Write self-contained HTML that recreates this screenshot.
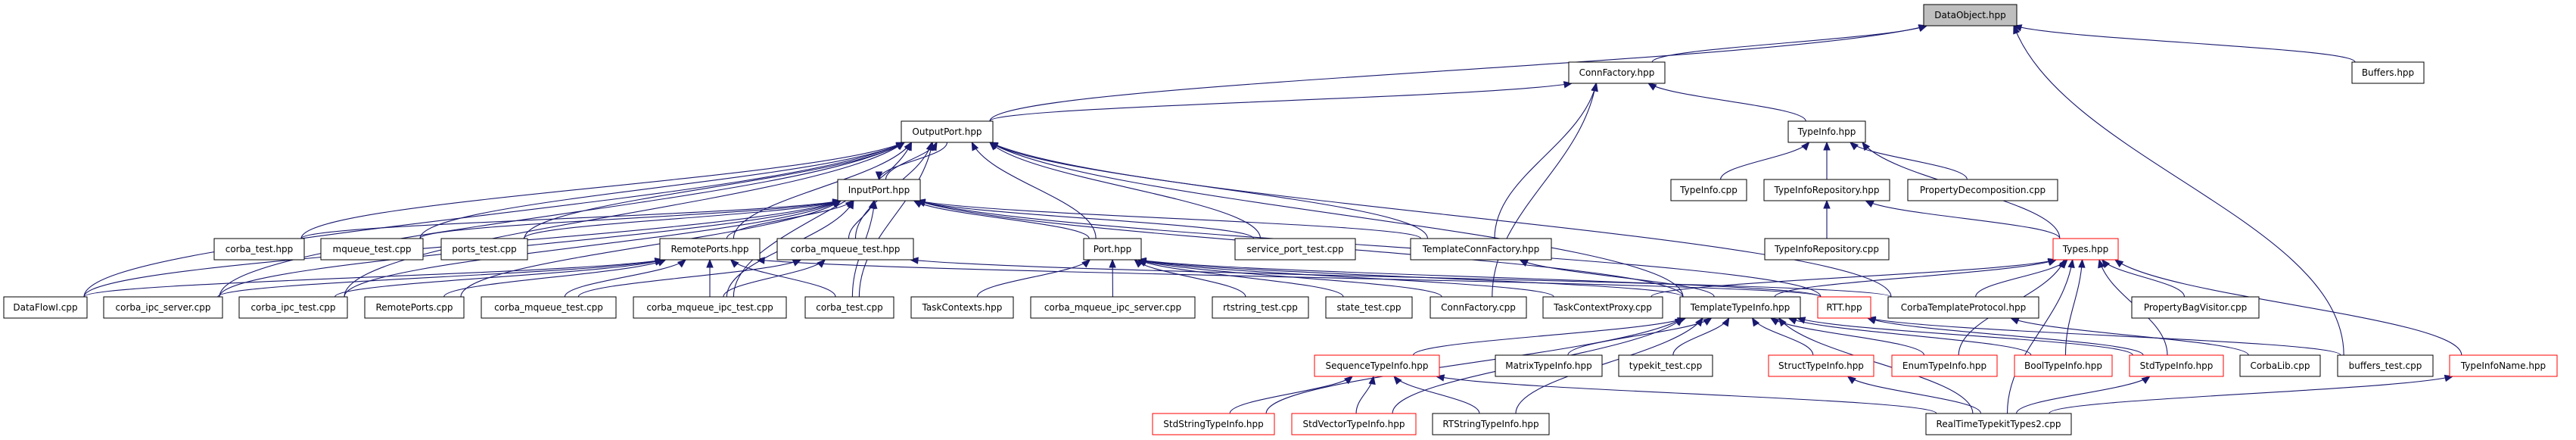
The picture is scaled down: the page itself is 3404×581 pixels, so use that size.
<!DOCTYPE html>
<html><head><meta charset="utf-8"><style>
html,body{margin:0;padding:0;background:#fff;}
svg{display:block;}
text{font-family:"DejaVu Sans","Liberation Sans",sans-serif;font-size:12px;fill:#000;}
</style></head><body>
<svg id="g" width="3404" height="581" viewBox="0 0 3404 581" xmlns="http://www.w3.org/2000/svg">
<g id="edges" fill="none" stroke="#191970" stroke-width="1.1"></g>
<g id="arrows" fill="#191970" stroke="#191970"></g>
<g id="nodes">
<rect x="2542" y="6" width="123" height="28" fill="#bfbfbf" stroke="#000"/><text x="2603.5" y="24" text-anchor="middle">DataObject.hpp</text>
<rect x="2073" y="82" width="127" height="28" fill="#fff" stroke="#000"/><text x="2136.5" y="100" text-anchor="middle">ConnFactory.hpp</text>
<rect x="3108" y="82" width="95" height="28" fill="#fff" stroke="#000"/><text x="3155.5" y="100" text-anchor="middle">Buffers.hpp</text>
<rect x="1191" y="160" width="121" height="28" fill="#fff" stroke="#000"/><text x="1251.5" y="178" text-anchor="middle">OutputPort.hpp</text>
<rect x="2363" y="160" width="102" height="28" fill="#fff" stroke="#000"/><text x="2414" y="178" text-anchor="middle">TypeInfo.hpp</text>
<rect x="1107" y="237" width="109" height="28" fill="#fff" stroke="#000"/><text x="1161.5" y="255" text-anchor="middle">InputPort.hpp</text>
<rect x="2208" y="237" width="100" height="28" fill="#fff" stroke="#000"/><text x="2258" y="255" text-anchor="middle">TypeInfo.cpp</text>
<rect x="2331" y="237" width="166" height="28" fill="#fff" stroke="#000"/><text x="2414" y="255" text-anchor="middle">TypeInfoRepository.hpp</text>
<rect x="2521" y="237" width="198" height="28" fill="#fff" stroke="#000"/><text x="2620" y="255" text-anchor="middle">PropertyDecomposition.cpp</text>
<rect x="283" y="315" width="119" height="28" fill="#fff" stroke="#000"/><text x="342.5" y="333" text-anchor="middle">corba_test.hpp</text>
<rect x="424" y="315" width="135" height="28" fill="#fff" stroke="#000"/><text x="491.5" y="333" text-anchor="middle">mqueue_test.cpp</text>
<rect x="583" y="315" width="114" height="28" fill="#fff" stroke="#000"/><text x="640" y="333" text-anchor="middle">ports_test.cpp</text>
<rect x="872" y="315" width="132" height="28" fill="#fff" stroke="#000"/><text x="938" y="333" text-anchor="middle">RemotePorts.hpp</text>
<rect x="1027" y="315" width="180" height="28" fill="#fff" stroke="#000"/><text x="1117" y="333" text-anchor="middle">corba_mqueue_test.hpp</text>
<rect x="1432" y="315" width="76" height="28" fill="#fff" stroke="#000"/><text x="1470" y="333" text-anchor="middle">Port.hpp</text>
<rect x="1632" y="315" width="159" height="28" fill="#fff" stroke="#000"/><text x="1711.5" y="333" text-anchor="middle">service_port_test.cpp</text>
<rect x="1864" y="315" width="186" height="28" fill="#fff" stroke="#000"/><text x="1957" y="333" text-anchor="middle">TemplateConnFactory.hpp</text>
<rect x="2332" y="315" width="164" height="28" fill="#fff" stroke="#000"/><text x="2414" y="333" text-anchor="middle">TypeInfoRepository.cpp</text>
<rect x="2713" y="315" width="86" height="28" fill="#fff" stroke="#f00"/><text x="2756" y="333" text-anchor="middle">Types.hpp</text>
<rect x="5" y="392" width="110" height="28" fill="#fff" stroke="#000"/><text x="60" y="410" text-anchor="middle">DataFlowI.cpp</text>
<rect x="137" y="392" width="157" height="28" fill="#fff" stroke="#000"/><text x="215.5" y="410" text-anchor="middle">corba_ipc_server.cpp</text>
<rect x="316" y="392" width="143" height="28" fill="#fff" stroke="#000"/><text x="387.5" y="410" text-anchor="middle">corba_ipc_test.cpp</text>
<rect x="482" y="392" width="131" height="28" fill="#fff" stroke="#000"/><text x="547.5" y="410" text-anchor="middle">RemotePorts.cpp</text>
<rect x="636" y="392" width="178" height="28" fill="#fff" stroke="#000"/><text x="725" y="410" text-anchor="middle">corba_mqueue_test.cpp</text>
<rect x="837" y="392" width="202" height="28" fill="#fff" stroke="#000"/><text x="938" y="410" text-anchor="middle">corba_mqueue_ipc_test.cpp</text>
<rect x="1064" y="392" width="117" height="28" fill="#fff" stroke="#000"/><text x="1122.5" y="410" text-anchor="middle">corba_test.cpp</text>
<rect x="1204" y="392" width="135" height="28" fill="#fff" stroke="#000"/><text x="1271.5" y="410" text-anchor="middle">TaskContexts.hpp</text>
<rect x="1362" y="392" width="217" height="28" fill="#fff" stroke="#000"/><text x="1470.5" y="410" text-anchor="middle">corba_mqueue_ipc_server.cpp</text>
<rect x="1602" y="392" width="127" height="28" fill="#fff" stroke="#000"/><text x="1665.5" y="410" text-anchor="middle">rtstring_test.cpp</text>
<rect x="1752" y="392" width="114" height="28" fill="#fff" stroke="#000"/><text x="1809" y="410" text-anchor="middle">state_test.cpp</text>
<rect x="1890" y="392" width="127" height="28" fill="#fff" stroke="#000"/><text x="1953.5" y="410" text-anchor="middle">ConnFactory.cpp</text>
<rect x="2039" y="392" width="158" height="28" fill="#fff" stroke="#000"/><text x="2118" y="410" text-anchor="middle">TaskContextProxy.cpp</text>
<rect x="2220" y="392" width="159" height="28" fill="#fff" stroke="#000"/><text x="2299.5" y="410" text-anchor="middle">TemplateTypeInfo.hpp</text>
<rect x="2402" y="392" width="70" height="28" fill="#fff" stroke="#f00"/><text x="2437" y="410" text-anchor="middle">RTT.hpp</text>
<rect x="2495" y="392" width="199" height="28" fill="#fff" stroke="#000"/><text x="2594.5" y="410" text-anchor="middle">CorbaTemplateProtocol.hpp</text>
<rect x="2817" y="392" width="168" height="28" fill="#fff" stroke="#000"/><text x="2901" y="410" text-anchor="middle">PropertyBagVisitor.cpp</text>
<rect x="1737" y="469" width="165" height="28" fill="#fff" stroke="#f00"/><text x="1819.5" y="487" text-anchor="middle">SequenceTypeInfo.hpp</text>
<rect x="1976" y="469" width="141" height="28" fill="#fff" stroke="#000"/><text x="2046.5" y="487" text-anchor="middle">MatrixTypeInfo.hpp</text>
<rect x="2139" y="469" width="124" height="28" fill="#fff" stroke="#000"/><text x="2201" y="487" text-anchor="middle">typekit_test.cpp</text>
<rect x="2337" y="469" width="139" height="28" fill="#fff" stroke="#f00"/><text x="2406.5" y="487" text-anchor="middle">StructTypeInfo.hpp</text>
<rect x="2500" y="469" width="139" height="28" fill="#fff" stroke="#f00"/><text x="2569.5" y="487" text-anchor="middle">EnumTypeInfo.hpp</text>
<rect x="2662" y="469" width="129" height="28" fill="#fff" stroke="#f00"/><text x="2726.5" y="487" text-anchor="middle">BoolTypeInfo.hpp</text>
<rect x="2814" y="469" width="124" height="28" fill="#fff" stroke="#f00"/><text x="2876" y="487" text-anchor="middle">StdTypeInfo.hpp</text>
<rect x="2960" y="469" width="106" height="28" fill="#fff" stroke="#000"/><text x="3013" y="487" text-anchor="middle">CorbaLib.cpp</text>
<rect x="3089" y="469" width="126" height="28" fill="#fff" stroke="#000"/><text x="3152" y="487" text-anchor="middle">buffers_test.cpp</text>
<rect x="3237" y="469" width="142" height="28" fill="#fff" stroke="#f00"/><text x="3308" y="487" text-anchor="middle">TypeInfoName.hpp</text>
<rect x="1523" y="546" width="161" height="28" fill="#fff" stroke="#f00"/><text x="1603.5" y="564" text-anchor="middle">StdStringTypeInfo.hpp</text>
<rect x="1707" y="546" width="164" height="28" fill="#fff" stroke="#f00"/><text x="1789" y="564" text-anchor="middle">StdVectorTypeInfo.hpp</text>
<rect x="1893" y="546" width="154" height="28" fill="#fff" stroke="#000"/><text x="1970" y="564" text-anchor="middle">RTStringTypeInfo.hpp</text>
<rect x="2545" y="546" width="192" height="28" fill="#fff" stroke="#000"/><text x="2641" y="564" text-anchor="middle">RealTimeTypekitTypes2.cpp</text>
</g>
</svg>
<script>
(function(){
var N={};
var rects=document.querySelectorAll('#nodes rect');
var texts=document.querySelectorAll('#nodes text');
for(var i=0;i<rects.length;i++){
 var r=rects[i];N[texts[i].textContent]={x:+r.getAttribute('x'),y:+r.getAttribute('y'),w:+r.getAttribute('width'),h:28};
}
var E=[
["DataObject.hpp","OutputPort.hpp"],["DataObject.hpp","ConnFactory.hpp"],["DataObject.hpp","Buffers.hpp"],["DataObject.hpp","buffers_test.cpp"],
["ConnFactory.hpp","OutputPort.hpp"],["ConnFactory.hpp","TemplateConnFactory.hpp"],["ConnFactory.hpp","ConnFactory.cpp"],["ConnFactory.hpp","TypeInfo.hpp"],
["TypeInfo.hpp","TypeInfo.cpp"],["TypeInfo.hpp","TypeInfoRepository.hpp"],["TypeInfo.hpp","PropertyDecomposition.cpp"],["TypeInfo.hpp","Types.hpp"],
["TypeInfoRepository.hpp","TypeInfoRepository.cpp"],["TypeInfoRepository.hpp","Types.hpp"],
["OutputPort.hpp","InputPort.hpp"],["InputPort.hpp","OutputPort.hpp"],["OutputPort.hpp","DataFlowI.cpp"],["OutputPort.hpp","corba_ipc_server.cpp"],["OutputPort.hpp","corba_ipc_test.cpp"],["OutputPort.hpp","corba_test.hpp"],["OutputPort.hpp","mqueue_test.cpp"],["OutputPort.hpp","ports_test.cpp"],["OutputPort.hpp","RemotePorts.hpp"],["OutputPort.hpp","corba_mqueue_test.hpp"],["OutputPort.hpp","corba_mqueue_ipc_test.cpp"],["OutputPort.hpp","corba_test.cpp"],["OutputPort.hpp","Port.hpp"],["OutputPort.hpp","service_port_test.cpp"],["OutputPort.hpp","TemplateConnFactory.hpp"],["OutputPort.hpp","TemplateTypeInfo.hpp"],["OutputPort.hpp","CorbaTemplateProtocol.hpp"],
["InputPort.hpp","corba_test.hpp"],["InputPort.hpp","mqueue_test.cpp"],["InputPort.hpp","ports_test.cpp"],["InputPort.hpp","RemotePorts.hpp"],["InputPort.hpp","corba_mqueue_test.hpp"],["InputPort.hpp","Port.hpp"],["InputPort.hpp","DataFlowI.cpp"],["InputPort.hpp","corba_ipc_server.cpp"],["InputPort.hpp","corba_ipc_test.cpp"],["InputPort.hpp","RemotePorts.cpp"],["InputPort.hpp","corba_mqueue_ipc_test.cpp"],["InputPort.hpp","corba_test.cpp"],["InputPort.hpp","service_port_test.cpp"],["InputPort.hpp","TemplateConnFactory.hpp"],["InputPort.hpp","TemplateTypeInfo.hpp"],["InputPort.hpp","RTT.hpp"],
["RemotePorts.hpp","DataFlowI.cpp"],["RemotePorts.hpp","corba_ipc_server.cpp"],["RemotePorts.hpp","corba_ipc_test.cpp"],["RemotePorts.hpp","RemotePorts.cpp"],["RemotePorts.hpp","corba_mqueue_test.cpp"],["RemotePorts.hpp","corba_mqueue_ipc_test.cpp"],["RemotePorts.hpp","corba_test.cpp"],["RemotePorts.hpp","RTT.hpp"],
["corba_mqueue_test.hpp","corba_mqueue_test.cpp"],["corba_mqueue_test.hpp","corba_mqueue_ipc_test.cpp"],["corba_mqueue_test.hpp","CorbaTemplateProtocol.hpp"],
["Port.hpp","TaskContexts.hpp"],["Port.hpp","corba_mqueue_ipc_server.cpp"],["Port.hpp","rtstring_test.cpp"],["Port.hpp","state_test.cpp"],["Port.hpp","ConnFactory.cpp"],["Port.hpp","TaskContextProxy.cpp"],["Port.hpp","TemplateTypeInfo.hpp"],["Port.hpp","RTT.hpp"],
["TemplateConnFactory.hpp","TemplateTypeInfo.hpp"],
["Types.hpp","TaskContextProxy.cpp"],["Types.hpp","TemplateTypeInfo.hpp"],["Types.hpp","CorbaTemplateProtocol.hpp"],["Types.hpp","PropertyBagVisitor.cpp"],["Types.hpp","EnumTypeInfo.hpp"],["Types.hpp","BoolTypeInfo.hpp"],["Types.hpp","StdTypeInfo.hpp"],["Types.hpp","TypeInfoName.hpp"],["Types.hpp","RealTimeTypekitTypes2.cpp"],
["TemplateTypeInfo.hpp","SequenceTypeInfo.hpp"],["TemplateTypeInfo.hpp","MatrixTypeInfo.hpp"],["TemplateTypeInfo.hpp","typekit_test.cpp"],["TemplateTypeInfo.hpp","StructTypeInfo.hpp"],["TemplateTypeInfo.hpp","EnumTypeInfo.hpp"],["TemplateTypeInfo.hpp","BoolTypeInfo.hpp"],["TemplateTypeInfo.hpp","StdTypeInfo.hpp"],["TemplateTypeInfo.hpp","RealTimeTypekitTypes2.cpp"],["TemplateTypeInfo.hpp","StdStringTypeInfo.hpp"],["TemplateTypeInfo.hpp","StdVectorTypeInfo.hpp"],["TemplateTypeInfo.hpp","RTStringTypeInfo.hpp"],
["RTT.hpp","buffers_test.cpp"],["RTT.hpp","StdTypeInfo.hpp"],["CorbaTemplateProtocol.hpp","CorbaLib.cpp"],
["SequenceTypeInfo.hpp","StdStringTypeInfo.hpp"],["SequenceTypeInfo.hpp","StdVectorTypeInfo.hpp"],["SequenceTypeInfo.hpp","RTStringTypeInfo.hpp"],["SequenceTypeInfo.hpp","RealTimeTypekitTypes2.cpp"],
["StructTypeInfo.hpp","RealTimeTypekitTypes2.cpp"],["StdTypeInfo.hpp","RealTimeTypekitTypes2.cpp"],["TypeInfoName.hpp","RealTimeTypekitTypes2.cpp"]
];
var eg=document.getElementById('edges'),ag=document.getElementById('arrows'),ns='http://www.w3.org/2000/svg';
E.forEach(function(e){
 var p=N[e[0]],c=N[e[1]];if(!p||!c)return;
 var pcx=p.x+p.w/2,ccx=c.x+c.w/2,sx,sy,ex,ey,c1x,c1y,c2x,c2y;
 if(c.y>p.y){
  var off=(ccx-pcx)*0.15;var lim=p.w/2-4;off=Math.max(-lim,Math.min(lim,off));
  var coff=(pcx-ccx)*0.1;var clim=c.w/2-4;coff=Math.max(-clim,Math.min(clim,coff));
  sx=ccx+coff;sy=c.y;ex=pcx+off;ey=p.y+p.h;
  var dy=sy-ey;c1x=sx;c1y=sy-dy*0.4;c2x=ex+(sx-ex)*0.15;c2y=ey+dy*0.4;
 } else {
  sx=ccx;sy=c.y+c.h;ex=pcx;ey=p.y;
  var dy2=ey-sy;c1x=sx;c1y=sy+dy2*0.4;c2x=ex;c2y=ey-dy2*0.4;
 }
 var path=document.createElementNS(ns,'path');
 path.setAttribute('d','M'+sx+','+sy+' C'+c1x+','+c1y+' '+c2x+','+c2y+' '+ex+','+ey);
 eg.appendChild(path);
 var dx=ex-c2x,dyy=ey-c2y,L=Math.sqrt(dx*dx+dyy*dyy)||1;dx/=L;dyy/=L;
 var bx=ex-dx*10,by=ey-dyy*10,nx=-dyy*4,ny=dx*4;
 var a=document.createElementNS(ns,'polygon');
 a.setAttribute('points',ex+','+ey+' '+(bx+nx)+','+(by+ny)+' '+(bx-nx)+','+(by-ny));
 ag.appendChild(a);
});
})();
</script>
</body></html>
